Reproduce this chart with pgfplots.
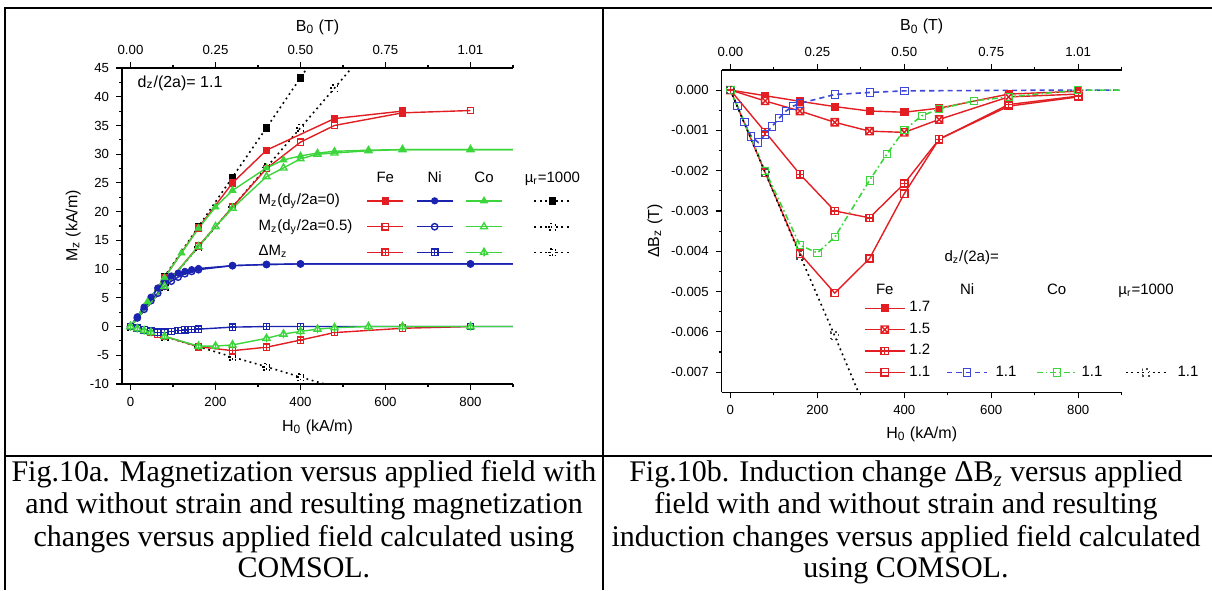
\documentclass[border=0pt]{standalone}
\usepackage{fontspec}
\setmainfont{Liberation Sans}
\newfontfamily\capfont{Liberation Serif}
\usepackage{pgfplots}
\pgfplotsset{compat=1.18}

\definecolor{fered}{RGB}{226,30,34}
\definecolor{niblue}{RGB}{26,34,176}
\definecolor{niblue2}{RGB}{60,70,215}
\definecolor{cogreen}{RGB}{60,214,60}

% square with plus / square with cross / triangle with bar
\pgfdeclareplotmark{sqplus}{%
  \pgfpathrectangle{\pgfqpoint{-\pgfplotmarksize}{-\pgfplotmarksize}}{\pgfqpoint{2\pgfplotmarksize}{2\pgfplotmarksize}}%
  \pgfpathmoveto{\pgfqpoint{-\pgfplotmarksize}{0pt}}\pgfpathlineto{\pgfqpoint{\pgfplotmarksize}{0pt}}%
  \pgfpathmoveto{\pgfqpoint{0pt}{-\pgfplotmarksize}}\pgfpathlineto{\pgfqpoint{0pt}{\pgfplotmarksize}}%
  \pgfusepathqfillstroke}
\pgfdeclareplotmark{sqtimes}{%
  \pgfpathrectangle{\pgfqpoint{-\pgfplotmarksize}{-\pgfplotmarksize}}{\pgfqpoint{2\pgfplotmarksize}{2\pgfplotmarksize}}%
  \pgfpathmoveto{\pgfqpoint{-\pgfplotmarksize}{-\pgfplotmarksize}}\pgfpathlineto{\pgfqpoint{\pgfplotmarksize}{\pgfplotmarksize}}%
  \pgfpathmoveto{\pgfqpoint{-\pgfplotmarksize}{\pgfplotmarksize}}\pgfpathlineto{\pgfqpoint{\pgfplotmarksize}{-\pgfplotmarksize}}%
  \pgfusepathqfillstroke}
\pgfdeclareplotmark{triplus}{%
  \pgfpathmoveto{\pgfqpointpolar{90}{1.2\pgfplotmarksize}}%
  \pgfpathlineto{\pgfqpointpolar{-30}{1.2\pgfplotmarksize}}%
  \pgfpathlineto{\pgfqpointpolar{210}{1.2\pgfplotmarksize}}\pgfpathclose
  \pgfpathmoveto{\pgfqpoint{0pt}{1.2\pgfplotmarksize}}\pgfpathlineto{\pgfqpoint{0pt}{-1.2\pgfplotmarksize}}%
  \pgfusepathqfillstroke}

\pgfplotsset{
  panel/.style={scale only axis, xmin=-20, xmax=900, tick align=outside,
    major tick length=3pt, minor tick length=1.6pt,
    every tick/.style={black, line width=0.55pt},
    axis line style={black, line width=0.65pt, -},
    tick label style={font=\fontsize{6.6}{7}\selectfont},
    label style={font=\fontsize{8}{9}\selectfont},
    /pgf/number format/assume math mode=true,
    xtick={0,200,400,600,800}, minor xtick={100,300,500,700,900},
    legend cell align=center},
  ln/.style={line width=0.7pt, mark options={solid, line width=0.4pt}},
  dotln/.style={black, line width=0.8pt, dash pattern=on 0.9pt off 1.8pt, mark options={solid, line width=0.4pt}},
}

\begin{document}
\begin{tikzpicture}[x=0.5pt, y=0.5pt]
\path[use as bounding box] (0,0) rectangle (1212,590);

% ---------------- Fig 10a ----------------
\begin{axis}[panel, at={(61pt,103pt)}, anchor=south west, width=195.5pt, height=158pt,
  ymin=-10, ymax=45, ytick={-10,-5,0,5,10,15,20,25,30,35,40,45},
  minor ytick={-7.5,-2.5,2.5,7.5,12.5,17.5,22.5,27.5,32.5,37.5,42.5},
  axis x line*=bottom, axis y line*=left,
  xlabel={H\textsubscript{0} (kA/m)}, ylabel={M\textsubscript{z} (kA/m)},
  xlabel style={at={(axis description cs:0.5,-0.136)}, anchor=center},
  ylabel style={at={(axis description cs:-0.125,0.5)}, anchor=center},
  legend columns=5,
  legend style={at={(axis description cs:0.338,0.672)}, anchor=north west, draw=none, fill=none,
    font=\fontsize{7.5}{8}\selectfont, inner sep=0pt, row sep=2pt,
    /tikz/every even column/.append style={column sep=2pt}},
  legend image code/.code={\draw[mark repeat=2,mark phase=2,#1] plot coordinates {(0pt,0pt) (9pt,0pt) (18pt,0pt)};},
]
% mu_r = 1000
\addplot[dotln, mark=square*, mark size=1.6pt, mark indices={2,3,4,5,6}, forget plot]
  coordinates {(0,0) (80,8.7) (160,17.4) (240,26.0) (320,34.6) (400,43.3) (470,50.9)};
\addplot[dotln, mark=square, mark size=1.6pt, mark options={fill=white}, mark indices={2,3,4,5,6,7}, forget plot]
  coordinates {(0,0) (80,6.9) (160,13.9) (240,20.8) (320,27.7) (400,34.6) (480,41.5) (580,50.2)};
\addplot[dotln, mark=sqplus, mark size=1.6pt, mark options={fill=white}, mark indices={1,2,3,4,5,6}, forget plot]
  coordinates {(0,0) (80,-1.75) (160,-3.5) (240,-5.3) (320,-7.0) (400,-8.8) (480,-10.5)};
% Fe
\addplot[fered, ln, mark=square*, mark size=1.6pt, forget plot]
  coordinates {(0,0) (80,8.5) (160,17.2) (240,25.0) (320,30.7) (480,36.2) (640,37.5)};
\addplot[fered, ln, mark=square, mark size=1.6pt, mark options={fill=white}, forget plot]
  coordinates {(0,0) (80,7.0) (160,14.0) (240,20.8) (320,27.5) (400,32.1) (480,35.0) (640,37.2) (800,37.6)};
\addplot[fered, ln, mark=sqplus, mark size=1.6pt, mark options={fill=white}, forget plot]
  coordinates {(0,0) (16,-0.35) (32,-0.7) (48,-1.0) (64,-1.35) (80,-1.7) (160,-3.5) (240,-4.2) (320,-3.6) (400,-2.35) (480,-1.05) (640,-0.3) (800,0)};
% Ni
\addplot[niblue, ln, mark=*, mark size=1.6pt, mark indices={1,2,3,4,5,6,7,8,9,10,11,12,13,14,15}, forget plot]
  coordinates {(0,0) (16,1.7) (32,3.4) (48,5.1) (64,6.7) (80,8.0) (96,8.8) (112,9.3) (128,9.6) (144,9.9) (160,10.1) (240,10.6) (320,10.8) (400,10.9) (800,10.9) (900,10.9)};
\addplot[niblue, ln, mark=o, mark size=1.6pt, mark options={fill=white}, mark indices={1,2,3,4,5,6,7,8,9,10,11,12,13,14,15}, forget plot]
  coordinates {(0,0) (16,1.5) (32,3.0) (48,4.5) (64,5.8) (80,7.0) (96,7.9) (112,8.6) (128,9.2) (144,9.6) (160,9.9) (240,10.6) (320,10.8) (400,10.9) (800,10.9) (900,10.9)};
\addplot[niblue, ln, mark=sqplus, mark size=1.6pt, mark options={fill=white}, mark indices={1,2,3,4,5,6,7,8,9,10,11,12,13,14,15}, forget plot]
  coordinates {(0,0) (16,-0.3) (32,-0.6) (48,-0.8) (64,-1.0) (80,-1.0) (96,-0.85) (112,-0.7) (128,-0.6) (144,-0.5) (160,-0.45) (240,-0.1) (320,0) (400,0) (800,0) (900,0)};
% Co
\addplot[cogreen, ln, mark=triangle*, mark size=2pt, mark indices={1,2,3,4,5,6,7,8,9,10,11,12,13,14,15}, forget plot]
  coordinates {(0,0) (40,4.3) (80,8.5) (120,12.8) (160,17.1) (200,20.8) (240,23.7) (320,27.6) (360,29.0) (400,29.7) (440,30.2) (480,30.5) (560,30.7) (640,30.8) (800,30.8) (900,30.8)};
\addplot[cogreen, ln, mark=triangle, mark size=2pt, mark options={fill=white}, mark indices={1,2,3,4,5,6,7,8,9,10,11,12,13}, forget plot]
  coordinates {(0,0) (80,7.0) (160,13.9) (200,17.4) (240,20.6) (320,26.1) (360,27.6) (400,29.2) (440,30.0) (480,30.2) (560,30.6) (640,30.8) (800,30.8) (900,30.8)};
\addplot[cogreen, ln, mark=triplus, mark size=1.7pt, mark options={fill=white}, mark indices={1,2,3,4,5,6,7,8,9,10,11,12,13,14,15,16}, forget plot]
  coordinates {(0,0) (16,-0.35) (32,-0.7) (48,-1.0) (80,-1.7) (160,-3.4) (200,-3.4) (240,-3.2) (320,-2.05) (360,-1.3) (400,-0.85) (440,-0.45) (480,-0.2) (560,0) (640,0) (800,0) (900,0)};

\node[anchor=west, font=\fontsize{8}{9}\selectfont] at (axis description cs:0.022,0.953) {d\textsubscript{z}/(2a)= 1.1};

% legend: header row
\addlegendimage{empty legend}\addlegendentry{\mbox{}}
\addlegendimage{legend image code/.code={\node[inner sep=0pt, font=\fontsize{7.5}{8}\selectfont] at (9pt,0pt) {Fe};}}\addlegendentry{\mbox{}}
\addlegendimage{legend image code/.code={\node[inner sep=0pt, font=\fontsize{7.5}{8}\selectfont] at (9pt,0pt) {Ni};}}\addlegendentry{\mbox{}}
\addlegendimage{legend image code/.code={\node[inner sep=0pt, font=\fontsize{7.5}{8}\selectfont] at (9pt,0pt) {Co};}}\addlegendentry{\makebox[5pt]{}}
\addlegendimage{legend image code/.code={\node[inner sep=0pt, font=\fontsize{7.5}{8}\selectfont] at (9pt,0pt) {µ\textsubscript{r}=1000};}}\addlegendentry{\mbox{}}
% row 1
\addlegendimage{empty legend}\addlegendentry{\makebox[50pt][l]{M\textsubscript{z}(d\textsubscript{y}/2a=0)}}
\addlegendimage{fered, ln, mark=square*, mark size=1.6pt}\addlegendentry{\mbox{}}
\addlegendimage{niblue, ln, mark=*, mark size=1.6pt}\addlegendentry{\mbox{}}
\addlegendimage{cogreen, ln, mark=triangle*, mark size=2pt}\addlegendentry{\mbox{}}
\addlegendimage{dotln, mark=square*, mark size=1.6pt}\addlegendentry{\mbox{}}
% row 2
\addlegendimage{empty legend}\addlegendentry{\makebox[50pt][l]{M\textsubscript{z}(d\textsubscript{y}/2a=0.5)}}
\addlegendimage{fered, ln, mark=square, mark size=1.6pt, mark options={fill=white}}\addlegendentry{\mbox{}}
\addlegendimage{niblue, ln, mark=o, mark size=1.6pt, mark options={fill=white}}\addlegendentry{\mbox{}}
\addlegendimage{cogreen, ln, mark=triangle, mark size=2pt, mark options={fill=white}}\addlegendentry{\mbox{}}
\addlegendimage{dotln, mark=square, mark size=1.6pt, mark options={fill=white}}\addlegendentry{\mbox{}}
% row 3
\addlegendimage{empty legend}\addlegendentry{\makebox[50pt][l]{ΔM\textsubscript{z}}}
\addlegendimage{fered, ln, mark=sqplus, mark size=1.6pt, mark options={fill=white}}\addlegendentry{\mbox{}}
\addlegendimage{niblue, ln, mark=sqplus, mark size=1.6pt, mark options={fill=white}}\addlegendentry{\mbox{}}
\addlegendimage{cogreen, ln, mark=triplus, mark size=1.7pt, mark options={fill=white}}\addlegendentry{\mbox{}}
\addlegendimage{dotln, mark=sqplus, mark size=1.6pt, mark options={fill=white}}\addlegendentry{\mbox{}}
\end{axis}

\begin{axis}[panel, at={(61pt,103pt)}, anchor=south west, width=195.5pt, height=158pt,
  ymin=-10, ymax=45, axis x line*=top, axis y line=none,
  xticklabels={0.00,0.25,0.50,0.75,1.01},
  xlabel={B\textsubscript{0} (T)},
  xlabel style={at={(axis description cs:0.5,1.13)}, anchor=center}]
\end{axis}

% ---------------- Fig 10b ----------------
\begin{axis}[panel, at={(360.85pt,98.85pt)}, anchor=south west, width=200pt, height=161.2pt,
  ymin=-0.0075, ymax=0.0005, scaled y ticks=false,
  ytick={-0.007,-0.006,-0.005,-0.004,-0.003,-0.002,-0.001,0},
  yticklabels={-0.007,-0.006,-0.005,-0.004,-0.003,-0.002,-0.001,0.000},
  minor ytick={-0.0065,-0.0055,-0.0045,-0.0035,-0.0025,-0.0015,-0.0005},
  axis x line*=bottom, axis y line*=left,
  xlabel={H\textsubscript{0} (kA/m)}, ylabel={ΔB\textsubscript{z} (T)},
  xlabel style={at={(axis description cs:0.5,-0.129)}, anchor=center},
  ylabel style={at={(axis description cs:-0.167,0.5)}, anchor=center},
  legend columns=4,
  legend style={at={(axis description cs:0.355,0.338)}, anchor=north west, draw=none, fill=none,
    font=\fontsize{7.5}{8}\selectfont, inner sep=0pt, row sep=0pt,
    /tikz/every even column/.append style={column sep=6pt}},
  legend image code/.code={\draw[mark repeat=2,mark phase=2,#1] plot coordinates {(0pt,0pt) (10pt,0pt) (20pt,0pt)};},
]
% Fe
\addplot[fered, ln, mark=square*, mark size=1.8pt, forget plot]
  coordinates {(0,0) (80,-0.00014) (160,-0.00028) (240,-0.00041) (320,-0.00052) (400,-0.00055) (480,-0.00045) (640,-0.0001) (800,-0.00003)};
\addplot[fered, ln, mark=sqtimes, mark size=1.8pt, mark options={fill=white}, forget plot]
  coordinates {(0,0) (80,-0.00027) (160,-0.00052) (240,-0.0008) (320,-0.00102) (400,-0.00105) (480,-0.00073) (640,-0.00017) (800,-0.0001)};
\addplot[fered, ln, mark=sqplus, mark size=1.8pt, mark options={fill=white}, forget plot]
  coordinates {(0,0) (80,-0.00104) (160,-0.00209) (240,-0.003) (320,-0.00317) (400,-0.00232) (480,-0.00122) (640,-0.00036) (800,-0.00015)};
\addplot[fered, ln, mark=square, mark size=1.8pt, mark options={fill=white}, forget plot]
  coordinates {(0,0) (80,-0.00205) (160,-0.00406) (240,-0.00504) (320,-0.00418) (400,-0.00257) (480,-0.00122) (640,-0.0004) (800,-0.00017)};
% Ni
\addplot[niblue2, line width=0.8pt, dash pattern=on 2.6pt off 2pt, mark=square, mark size=1.8pt, mark options={solid, line width=0.4pt, fill=white}, mark indices={1,2,3,4,5,6,7,8,9,10,11,12,13,14}, forget plot]
  coordinates {(0,0) (16,-0.0004) (32,-0.0008) (48,-0.00115) (64,-0.0013) (80,-0.0011) (96,-0.0009) (112,-0.0007) (128,-0.00052) (144,-0.0004) (160,-0.00033) (240,-0.00011) (320,-0.00006) (400,-0.00002) (800,0) (900,0)};
% Co
\addplot[cogreen, line width=0.8pt, dash pattern=on 3pt off 1.5pt on 0.8pt off 1.5pt, mark=square, mark size=1.8pt, mark options={solid, line width=0.4pt, fill=white}, mark indices={1,2,3,4,5,6,7,8,9,10,11,12,13}, forget plot]
  coordinates {(0,0) (80,-0.002) (160,-0.00385) (200,-0.00404) (240,-0.00365) (320,-0.00224) (360,-0.00159) (400,-0.00099) (440,-0.00064) (480,-0.00047) (560,-0.00027) (640,-0.00017) (800,0) (900,0)};
% mu_r = 1000
\addplot[dotln, mark=square, mark size=1.8pt, mark options={fill=white, draw=black!70}, mark indices={1,2,3,4}, forget plot]
  coordinates {(0,0) (80,-0.00205) (160,-0.0041) (240,-0.0061) (310,-0.0079)};

\node[font=\fontsize{7.5}{8}\selectfont] at (axis description cs:0.625,0.417) {d\textsubscript{z}/(2a)=};

% legend: header row
\addlegendimage{legend image code/.code={\node[inner sep=0pt, font=\fontsize{7.5}{8}\selectfont] at (10pt,0pt) {Fe};}}\addlegendentry{\mbox{}}
\addlegendimage{legend image code/.code={\node[inner sep=0pt, font=\fontsize{7.5}{8}\selectfont] at (10pt,0pt) {Ni};}}\addlegendentry{\makebox[14pt]{}}
\addlegendimage{legend image code/.code={\node[inner sep=0pt, font=\fontsize{7.5}{8}\selectfont] at (10pt,0pt) {Co};}}\addlegendentry{\mbox{}}
\addlegendimage{legend image code/.code={\node[inner sep=0pt, font=\fontsize{7.5}{8}\selectfont] at (10pt,0pt) {µ\textsubscript{r}=1000};}}\addlegendentry{\mbox{}}
% Fe rows
\addlegendimage{fered, ln, mark=square*, mark size=1.8pt}\addlegendentry{1.7}
\addlegendimage{empty legend}\addlegendentry{\mbox{}}
\addlegendimage{empty legend}\addlegendentry{\mbox{}}
\addlegendimage{empty legend}\addlegendentry{\mbox{}}
\addlegendimage{fered, ln, mark=sqtimes, mark size=1.8pt, mark options={fill=white}}\addlegendentry{1.5}
\addlegendimage{empty legend}\addlegendentry{\mbox{}}
\addlegendimage{empty legend}\addlegendentry{\mbox{}}
\addlegendimage{empty legend}\addlegendentry{\mbox{}}
\addlegendimage{fered, ln, mark=sqplus, mark size=1.8pt, mark options={fill=white}}\addlegendentry{1.2}
\addlegendimage{empty legend}\addlegendentry{\mbox{}}
\addlegendimage{empty legend}\addlegendentry{\mbox{}}
\addlegendimage{empty legend}\addlegendentry{\mbox{}}
\addlegendimage{fered, ln, mark=square, mark size=1.8pt, mark options={fill=white}}\addlegendentry{1.1}
\addlegendimage{niblue2, line width=0.8pt, dash pattern=on 2.6pt off 2pt, mark=square, mark size=1.8pt, mark options={solid, line width=0.4pt, fill=white}}\addlegendentry{1.1}
\addlegendimage{cogreen, line width=0.8pt, dash pattern=on 3pt off 1.5pt on 0.8pt off 1.5pt, mark=square, mark size=1.8pt, mark options={solid, line width=0.4pt, fill=white}}\addlegendentry{1.1}
\addlegendimage{dotln, mark=square, mark size=1.8pt, mark options={fill=white, draw=black!70}}\addlegendentry{1.1}
\end{axis}

\begin{axis}[panel, at={(360.85pt,98.85pt)}, anchor=south west, width=200pt, height=161.2pt,
  ymin=-0.0075, ymax=0.0005, axis x line*=top, axis y line=none,
  xticklabels={0.00,0.25,0.50,0.75,1.01},
  xlabel={B\textsubscript{0} (T)},
  xlabel style={at={(axis description cs:0.5,1.134)}, anchor=center}]
\end{axis}

% ---------------- frame and captions ----------------
\draw[line width=1.1pt] (5,0) -- (5,582) -- (1212,582);
\draw[line width=1.1pt] (603,0) -- (603,582);
\draw[line width=1.1pt] (5,134) -- (1212,134);

\begin{scope}[every node/.style={anchor=base, inner sep=0pt, font=\capfont\fontsize{15}{16}\selectfont}]
\node at (304,108) {Fig.10a. Magnetization versus applied field with};
\node at (304,76) {and without strain and resulting magnetization};
\node at (304,44) {changes versus applied field calculated using};
\node at (304,12) {COMSOL.};
\node at (906,108) {Fig.10b. Induction change ΔB\textsubscript{\itshape z} versus applied};
\node at (906,76) {field with and without strain and resulting};
\node at (906,44) {induction changes versus applied field calculated};
\node at (906,12) {using COMSOL.};
\end{scope}
\end{tikzpicture}
\end{document}
